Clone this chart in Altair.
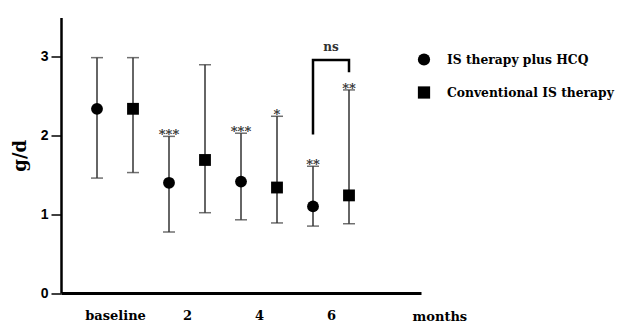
import altair as alt
import pandas as pd

time_labels = ["baseline", "2", "4", "6"]
series_names = ["IS therapy plus HCQ", "Conventional IS therapy"]

hcq_mean = [2.34, 1.40, 1.415, 1.10]
hcq_lo = [1.46, 0.775, 0.93, 0.85]
hcq_hi = [2.99, 1.99, 2.03, 1.61]
hcq_sig = ["", "***", "***", "**"]

conv_mean = [2.34, 1.69, 1.34, 1.24]
conv_lo = [1.53, 1.02, 0.89, 0.88]
conv_hi = [2.99, 2.90, 2.245, 2.58]
conv_sig = ["", "", "*", "**"]

# significance bracket between the two groups at month 6
bracket_label = "ns"
bracket_top = 2.96
bracket_left_bottom = 2.03
bracket_right_bottom = 2.82

SERIF = "DejaVu Serif"

rows = []
for i, t in enumerate(time_labels):
    rows.append(dict(time=t, series=series_names[0], pos=2 * i, mean=hcq_mean[i],
                     lo=hcq_lo[i], hi=hcq_hi[i], sig=hcq_sig[i]))
    rows.append(dict(time=t, series=series_names[1], pos=2 * i + 1, mean=conv_mean[i],
                     lo=conv_lo[i], hi=conv_hi[i], sig=conv_sig[i]))
df = pd.DataFrame(rows)

x0 = 2 * 3
x1 = 2 * 3 + 1
bracket_df = pd.DataFrame({
    "pos": [x0, x0, x1, x1],
    "y": [bracket_left_bottom, bracket_top, bracket_top, bracket_right_bottom],
    "k": [0, 1, 2, 3],
})
ns_df = pd.DataFrame({"pos": [(x0 + x1) / 2], "y": [bracket_top], "t": [bracket_label]})

label_expr = "[" + ",".join("'" + t + "'" for t in time_labels) + "][floor(datum.value / 2)]"

xscale = alt.Scale(domain=[-1, 9], nice=False, zero=False)
yscale = alt.Scale(domain=[0, 3.5], nice=False)

x_enc = alt.X("pos:Q", scale=xscale, axis=alt.Axis(
    values=[0.5, 2.5, 4.5, 6.5], labelExpr=label_expr, grid=False, ticks=False,
    domainWidth=3, domainColor="black", labelFont=SERIF, labelFontWeight="bold",
    labelFontSize=13, labelColor="black", labelPadding=16,
    title="months", titleFont=SERIF, titleFontWeight="bold", titleFontSize=13,
    titleX=351, titleY=23, titleAlign="left", titleBaseline="middle", titleColor="black"))
y_axis = alt.Axis(values=[0, 1, 2, 3], format="d", grid=False, tickSize=10, tickWidth=1.5,
                  tickColor="black", domainWidth=2.5, domainColor="black",
                  labelFont="Liberation Sans", labelFontWeight="bold", labelFontSize=14,
                  labelColor="black", labelPadding=3,
                  title="g/d", titleFont=SERIF, titleFontWeight="bold",
                  titleFontSize=18, titleColor="black", titleX=-32)

base = alt.Chart(df)

rules = base.mark_rule(color="#333", strokeWidth=1.5).encode(
    x=x_enc, y=alt.Y("lo:Q", scale=yscale, axis=y_axis), y2="hi:Q")
cap_lo = base.mark_tick(color="#333", thickness=1.5, size=12, orient="horizontal").encode(
    x="pos:Q", y="lo:Q")
cap_hi = base.mark_tick(color="#333", thickness=1.5, size=12, orient="horizontal").encode(
    x="pos:Q", y="hi:Q")
points = base.mark_point(filled=True, opacity=1, size=140, color="black").encode(
    x="pos:Q", y="mean:Q",
    shape=alt.Shape("series:N", scale=alt.Scale(domain=series_names, range=["circle", "square"]),
                    legend=alt.Legend(title=None, orient="none", legendX=356, legendY=35,
                                      labelFont=SERIF, labelFontWeight="bold",
                                      labelFontSize=12.3, labelColor="black", labelOffset=16,
                                      labelLimit=400, rowPadding=13, symbolSize=150,
                                      symbolFillColor="black", symbolStrokeColor="black",
                                      padding=0)))
stars = base.mark_text(font=SERIF, fontWeight="bold", fontSize=13, color="#333",
                       baseline="alphabetic", dy=3).encode(x="pos:Q", y="hi:Q", text="sig:N")
bracket = alt.Chart(bracket_df).mark_line(color="black", strokeWidth=2.5, strokeCap="square").encode(
    x="pos:Q", y="y:Q", order="k:Q")
ns = alt.Chart(ns_df).mark_text(font=SERIF, fontWeight="bold", fontSize=12,
                                color="#333", baseline="bottom", dy=-6).encode(
    x="pos:Q", y="y:Q", text="t:N")

chart = alt.layer(rules, cap_lo, cap_hi, points, stars, bracket, ns).properties(
    width=360, height=275.5,
    autosize=alt.AutoSizeParams(type="none"),
    padding={"left": 53, "top": 9.5, "right": 199, "bottom": 30},
).configure_view(stroke=None)

chart.save("out.html", embed_options={"renderer": "svg", "actions": False})
